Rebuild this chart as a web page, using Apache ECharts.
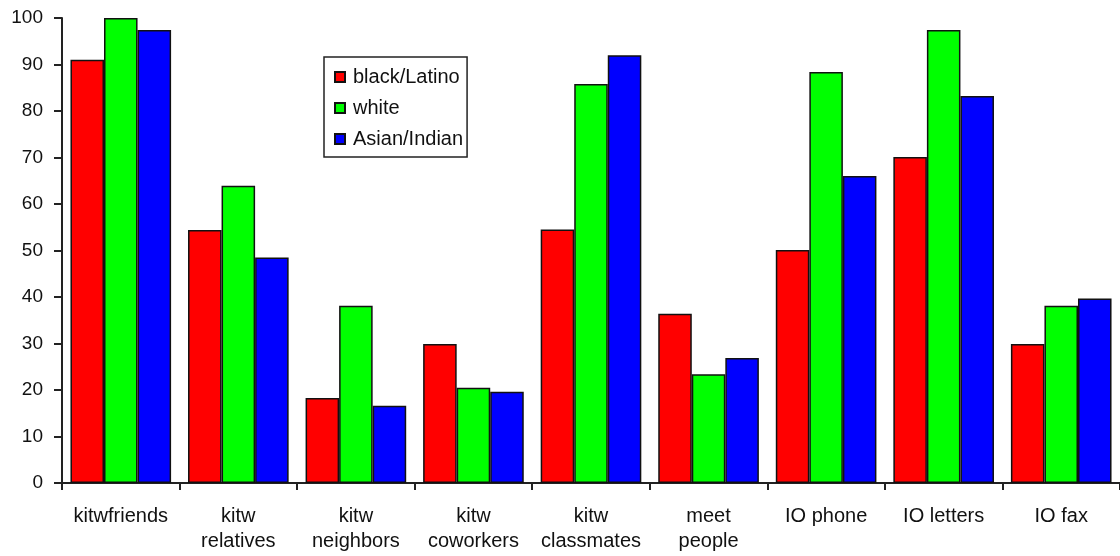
<!DOCTYPE html>
<html>
<head>
<meta charset="utf-8">
<script src="https://cdn.jsdelivr.net/npm/echarts@6/dist/echarts.min.js"></script>
<style>html,body{margin:0;padding:0;background:#fff;}#c{width:1120px;height:556px;}</style>
</head>
<body>
<div id="c"></div>
<script>
var categories = ['kitwfriends', 'kitw\nrelatives', 'kitw\nneighbors', 'kitw\ncoworkers', 'kitw\nclassmates', 'meet\npeople', 'IO phone', 'IO letters', 'IO fax'];
var blackLatino = [91.0, 54.4, 18.3, 29.9, 54.5, 36.4, 50.1, 70.1, 29.9];
var white = [100, 63.9, 38.1, 20.5, 85.8, 23.4, 88.4, 97.4, 38.1];
var asianIndian = [97.4, 48.5, 16.6, 19.6, 92.0, 26.9, 66.0, 83.2, 39.7];
var yTicks = { min: 0, max: 100, interval: 10 };

var font = 'Liberation Sans, Arial, sans-serif';
var chart = echarts.init(document.getElementById('c'), null, { renderer: 'canvas' });
function bar(name, data, color) {
  return {
    name: name, type: 'bar', data: data,
    barGap: '0%', barCategoryGap: '14.4%',
    itemStyle: { color: color, borderColor: '#111', borderWidth: 1.5 },
    animation: false
  };
}
chart.setOption({
  animation: false,
  backgroundColor: '#fff',
  grid: { left: 62, top: 18, width: 1062, height: 465, containLabel: false },
  legend: {
    orient: 'vertical', left: 324, top: 57,
    itemWidth: 10, itemHeight: 10, itemGap: 11,
    padding: [10, 4, 8, 10],
    borderColor: '#222', borderWidth: 1.5,
    icon: 'rect',
    textStyle: { fontFamily: font, fontSize: 20, color: '#111', padding: [0, 0, 0, 3] },
    data: ['black/Latino', 'white', 'Asian/Indian']
  },
  xAxis: {
    type: 'category', data: categories, boundaryGap: true,
    axisLine: { lineStyle: { color: '#222', width: 2 } },
    axisTick: { show: true, interval: 0, length: 7, alignWithLabel: false, lineStyle: { color: '#222', width: 2 } },
    axisLabel: { interval: 0, margin: 21, fontFamily: font, fontSize: 20, color: '#111', lineHeight: 25 },
    splitLine: { show: false }
  },
  yAxis: {
    type: 'value', min: yTicks.min, max: yTicks.max, interval: yTicks.interval,
    axisLine: { show: true, lineStyle: { color: '#222', width: 2 } },
    axisTick: { show: true, length: 8, lineStyle: { color: '#222', width: 2 } },
    axisLabel: { margin: 19, fontFamily: font, fontSize: 19, color: '#111' },
    splitLine: { show: false }
  },
  series: [
    bar('black/Latino', blackLatino, '#ff0000'),
    bar('white', white, '#00ff00'),
    bar('Asian/Indian', asianIndian, '#0000ff')
  ]
});
</script>
</body>
</html>
